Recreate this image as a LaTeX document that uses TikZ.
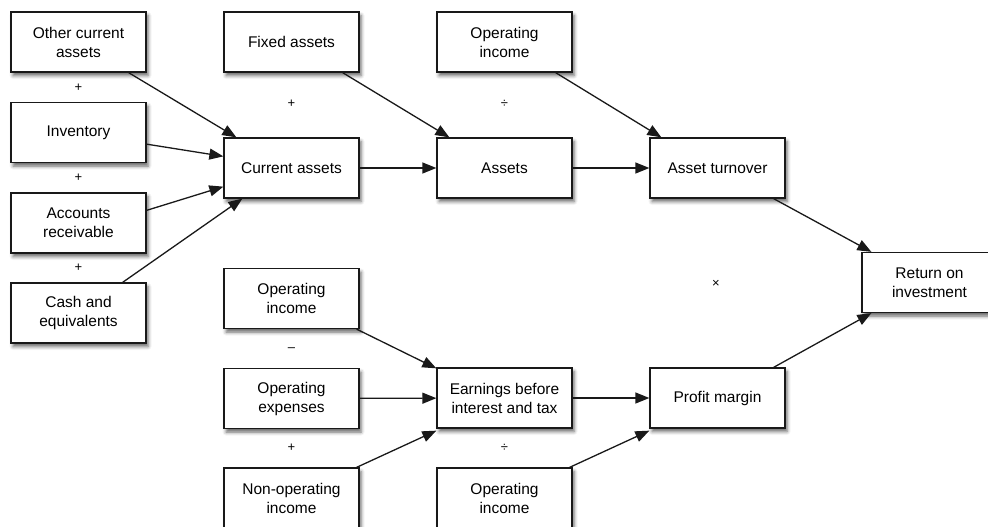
\documentclass[tikz,border=0pt]{standalone}
\usepackage{fontspec}
\setmainfont{Liberation Sans}
\usetikzlibrary{arrows.meta,shadows.blur}
\begin{document}
\begin{tikzpicture}[x=1pt,y=-1pt,
  box/.style={draw=black!90, line width=1.3pt, fill=white, minimum width=135pt, minimum height=60pt,
    align=center, inner sep=2pt, font=\fontsize{15.5}{19}\selectfont,
    blur shadow={shadow xshift=2pt, shadow yshift=-3.5pt, shadow blur radius=3.5pt, shadow opacity=60}},
  op/.style={font=\fontsize{13}{15}\selectfont, inner sep=0pt},
  arr/.style={draw=black!90, line width=1.3pt, -{Triangle[length=14pt,width=11pt]}}]
\useasboundingbox (0,0) rectangle (988,527);
\clip (0,0) rectangle (988,527);
% boxes
\node[box] (oca) at (78.5,42) {Other current\\assets};
\node[box] (inv) at (78.5,132.5) {Inventory};
\node[box] (ar) at (78.5,223) {Accounts\\receivable};
\node[box] (cash) at (78.5,313) {Cash and\\equivalents};
\node[box] (fixed) at (291.5,42) {Fixed assets};
\node[box] (ca) at (291.5,168) {Current assets};
\node[box] (opi1) at (504.5,42) {Operating\\income};
\node[box] (assets) at (504.5,168) {Assets};
\node[box] (at) at (717.5,168) {Asset turnover};
\node[box] (roi) at (929.5,282.5) {Return on\\investment};
\node[box] (opi2) at (291.5,298.5) {Operating\\income};
\node[box] (opex) at (291.5,398.5) {Operating\\expenses};
\node[box] (nonop) at (291.5,498) {Non-operating\\income};
\node[box] (ebit) at (504.5,398) {Earnings before\\interest and tax};
\node[box] (pm) at (717.5,398) {Profit margin};
\node[box] (opi3) at (504.5,498) {Operating\\income};
% operators
\node[op] (p1) at (78.5,88) {+};
\node[op] (p2) at (78.5,178) {+};
\node[op] (p3) at (78.5,268) {+};
\node[op] (p4) at (291.5,104) {+};
\node[op] (d1) at (504.5,104) {÷};
\node[op] (m1) at (716,284) {×};
\node[op] (s1) at (291.5,350) {–};
\node[op] (p5) at (291.5,448) {+};
\node[op] (d2) at (504.5,448) {÷};
% connectors
\draw[arr] ([xshift=-18pt]oca.south east) -- ([xshift=13pt]ca.north west);
\draw[arr] ([yshift=19pt]inv.south east) -- ([yshift=-19pt]ca.north west);
\draw[arr] ([yshift=-18pt]ar.north east) -- ([yshift=12pt]ca.south west);
\draw[arr] ([xshift=-24pt]cash.north east) -- ([xshift=19pt]ca.south west);
\draw[arr] ([xshift=-17pt]fixed.south east) -- ([xshift=13pt]assets.north west);
\draw[arr] (ca) -- (assets);
\draw[arr] ([xshift=-17pt]opi1.south east) -- ([xshift=12pt]at.north west);
\draw[arr] (assets) -- (at);
\draw[arr] ([xshift=-12pt]at.south east) -- ([xshift=10pt]roi.north west);
\draw[arr] ([xshift=-12pt]pm.north east) -- ([xshift=10pt]roi.south west);
\draw[arr] ([xshift=-3pt]opi2.south east) -- ([yshift=-1pt]ebit.north west);
\draw[arr] (opex) -- (ebit);
\draw[arr] ([xshift=-3pt]nonop.north east) -- ([yshift=-2pt]ebit.south west);
\draw[arr] (ebit) -- (pm);
\draw[arr] ([xshift=-3pt]opi3.north east) -- ([yshift=-2pt]pm.south west);
\end{tikzpicture}
\end{document}
